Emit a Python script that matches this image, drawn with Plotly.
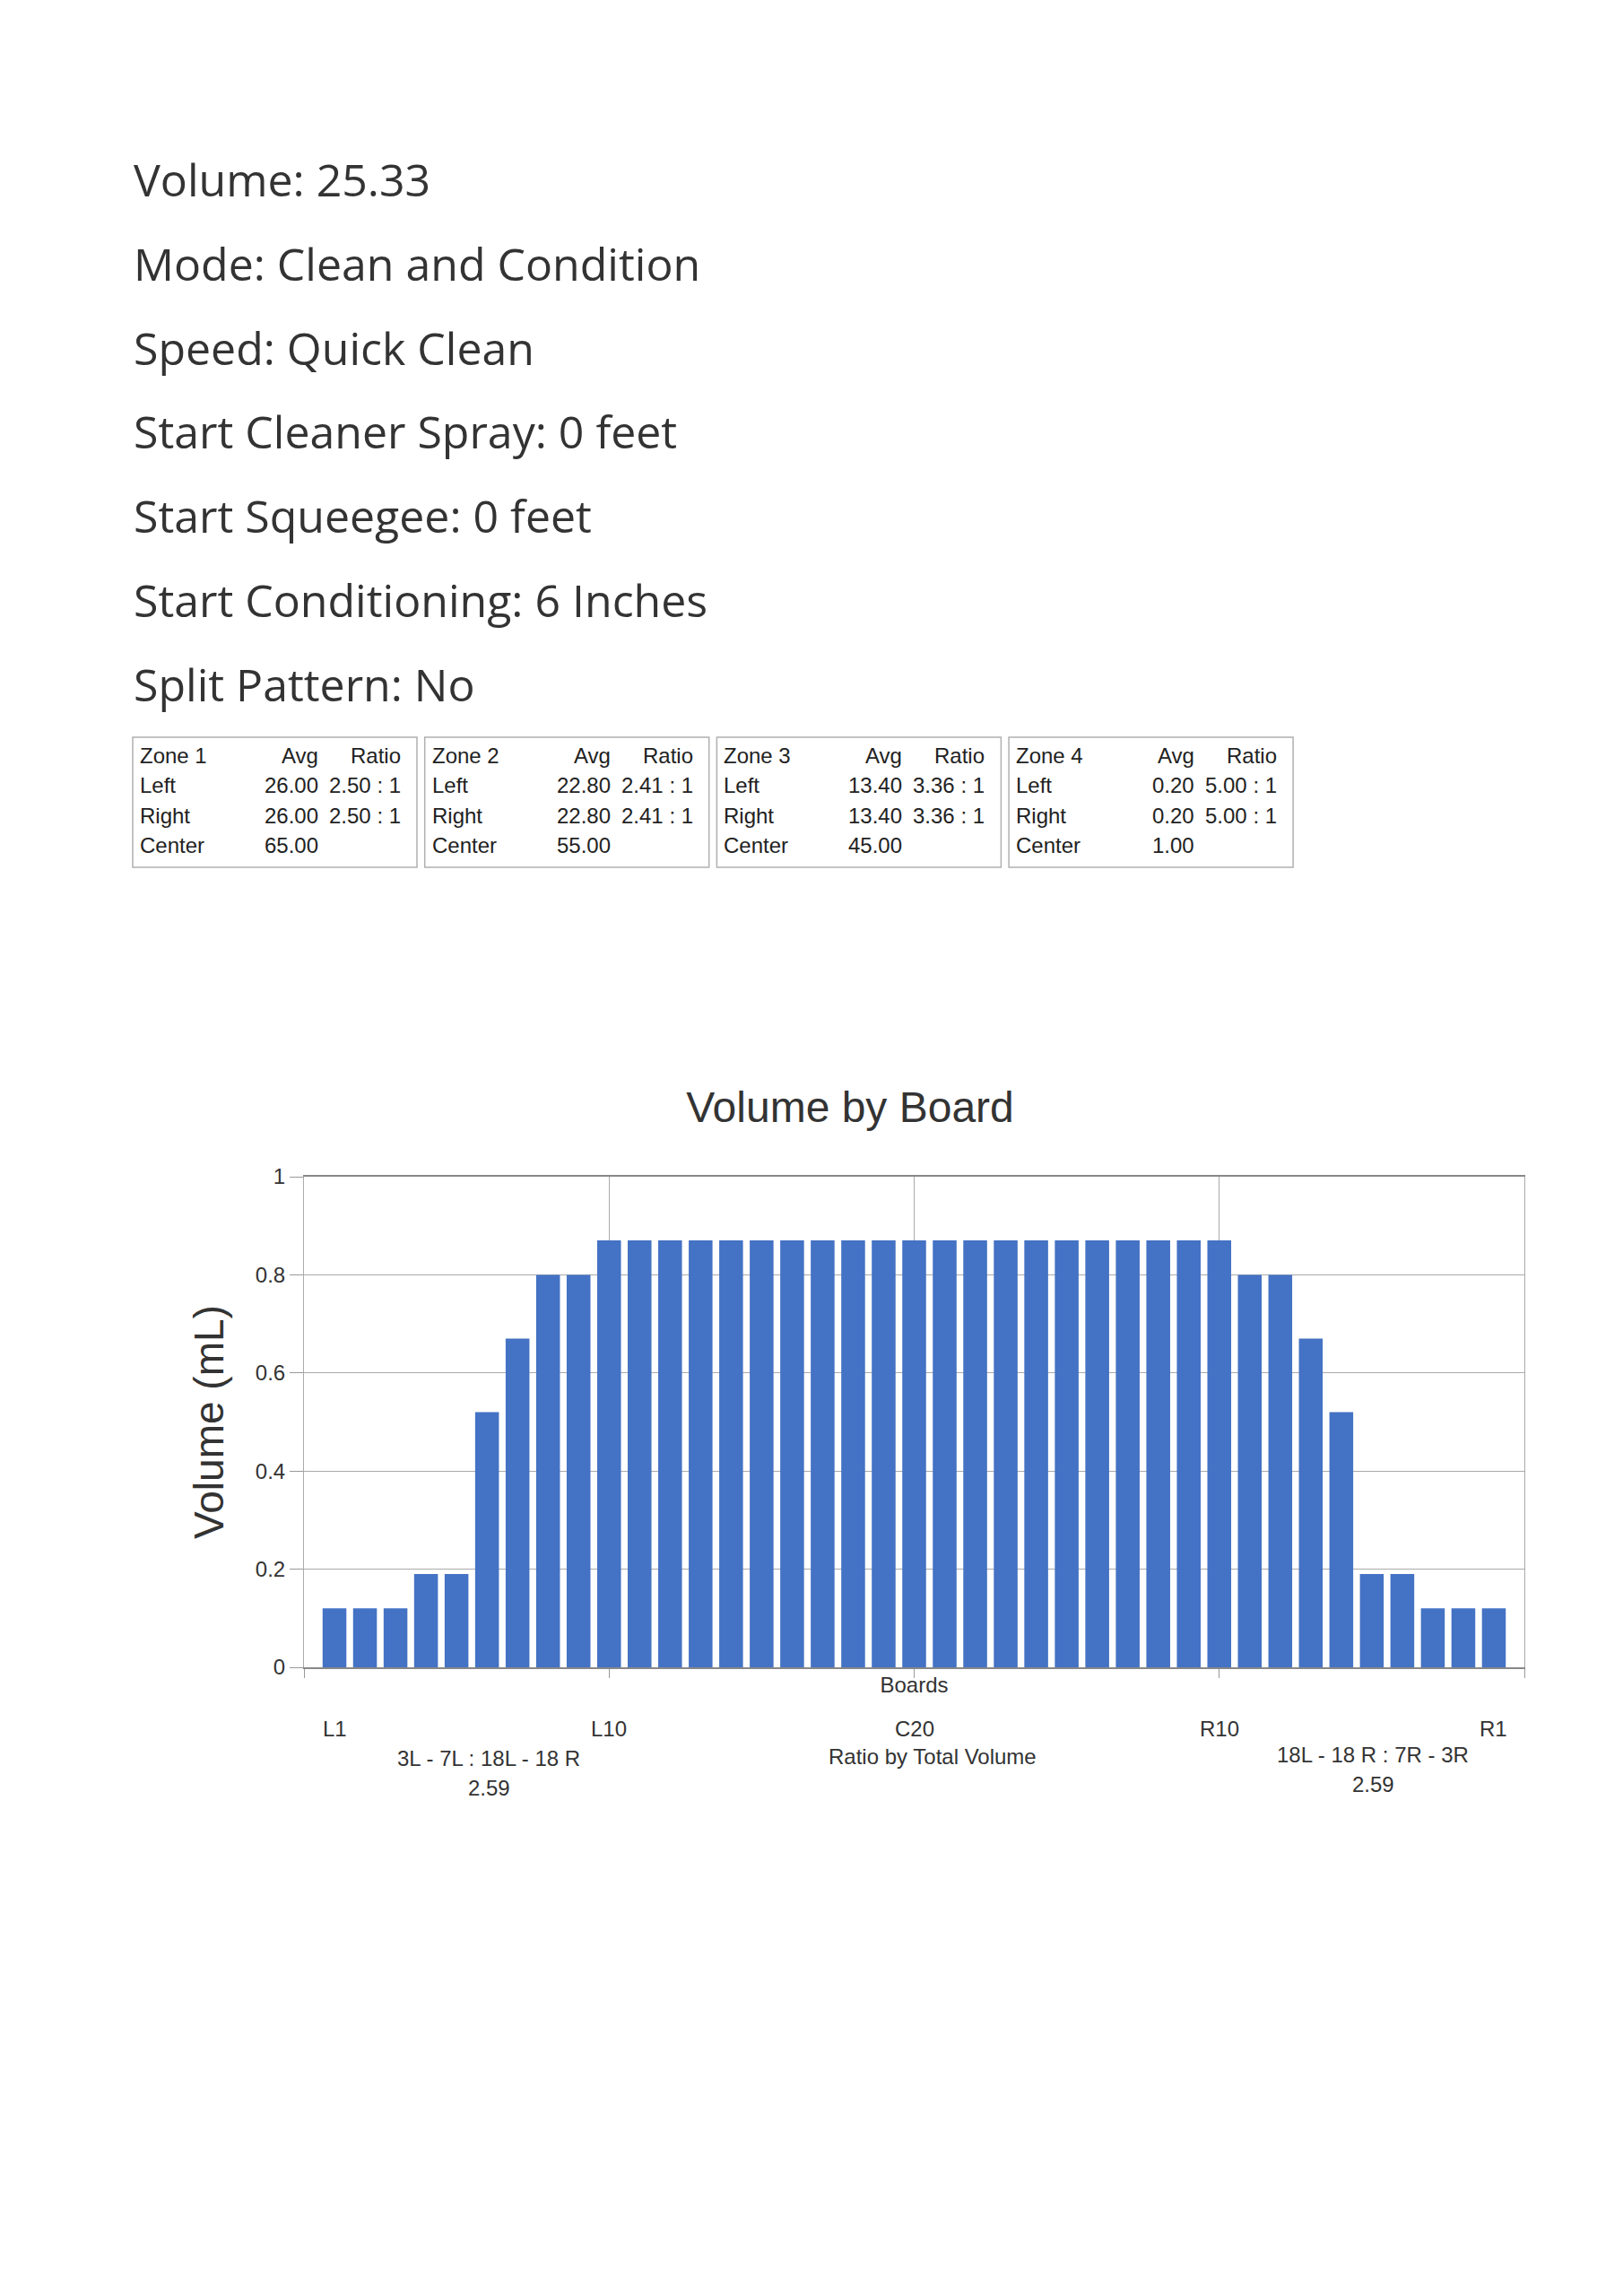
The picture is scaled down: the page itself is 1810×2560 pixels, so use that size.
"""
Volume by Board report page, rebuilt with plotly.
"""

import plotly.graph_objects as go

# ---- data -------------------------------------------------------------
info_labels = ["Volume", "Mode", "Speed", "Start Cleaner Spray",
               "Start Squeegee", "Start Conditioning", "Split Pattern"]
info_values = ["25.33", "Clean and Condition", "Quick Clean", "0 feet",
               "0 feet", "6 Inches", "No"]

zones = ["Zone 1", "Zone 2", "Zone 3", "Zone 4"]
zone_left_avg = [26.00, 22.80, 13.40, 0.20]
zone_right_avg = [26.00, 22.80, 13.40, 0.20]
zone_left_ratio = [2.50, 2.41, 3.36, 5.00]
zone_right_ratio = [2.50, 2.41, 3.36, 5.00]
zone_center = [65.00, 55.00, 45.00, 1.00]

boards = ([f"L{i}" for i in range(1, 20)] + ["C20"]
          + [f"R{i}" for i in range(19, 0, -1)])
volume_ml = ([0.12, 0.12, 0.12, 0.19, 0.19, 0.52, 0.67, 0.80, 0.80]
             + [0.87] * 21
             + [0.80, 0.80, 0.67, 0.52, 0.19, 0.19, 0.12, 0.12, 0.12])
labelled_boards = ["L1", "L10", "C20", "R10", "R1"]

ratio_left_text = "3L - 7L : 18L - 18 R"
ratio_right_text = "18L - 18 R : 7R - 3R"
ratio_left_value = "2.59"
ratio_right_value = "2.59"
ratio_caption = "Ratio by Total Volume"

# ---- page geometry (pixels) -------------------------------------------
W, H = 1810, 2560
PL, PR, PT, PB = 331, 1692, 1304, 1851


def px(x):
    return (x - PL) / (PR - PL)


def py(y):
    return (PB - y) / (PB - PT)


board_x = list(range(1, len(boards) + 1))

fig = go.Figure()
fig.add_trace(go.Bar(
    x=board_x, y=volume_ml, width=0.78,
    marker=dict(color="#4472C4", line=dict(width=0)),
    hovertext=boards, name="Volume",
))

annotations = []
shapes = []

# header lines
HEAD_FONT = dict(family="Open Sans, DejaVu Sans, sans-serif", size=50, color="#333333")
for i, (lab, val) in enumerate(zip(info_labels, info_values)):
    annotations.append(dict(
        text=f"{lab}: {val}", xref="paper", yref="paper",
        x=px(139), y=py(192 + i * 93.8), xanchor="left", yanchor="middle",
        showarrow=False, font=HEAD_FONT,
    ))

# zone boxes
TAB_FONT = dict(family="Liberation Sans, Arial, sans-serif", size=24, color="#222222")
row_y = [834, 867, 901, 934]
for z, name in enumerate(zones):
    left = 140 + z * 325.7
    shapes.append(dict(type="rect", xref="paper", yref="paper",
                       x0=px(left), x1=px(left + 317), y0=py(814), y1=py(959),
                       line=dict(color="#b0b0b0", width=1.5)))
    rows = [
        (name, "Avg", "Ratio"),
        ("Left", f"{zone_left_avg[z]:.2f}", f"{zone_left_ratio[z]:.2f} : 1"),
        ("Right", f"{zone_right_avg[z]:.2f}", f"{zone_right_ratio[z]:.2f} : 1"),
        ("Center", f"{zone_center[z]:.2f}", ""),
    ]
    for r, (a, b, c) in enumerate(rows):
        annotations.append(dict(text=a, xref="paper", yref="paper", x=px(left + 6),
                                y=py(row_y[r]), xanchor="left", yanchor="middle",
                                showarrow=False, font=TAB_FONT))
        annotations.append(dict(text=b, xref="paper", yref="paper", x=px(left + 209),
                                y=py(row_y[r]), xanchor="right", yanchor="middle",
                                showarrow=False, font=TAB_FONT))
        if c:
            annotations.append(dict(text=c, xref="paper", yref="paper", x=px(left + 301),
                                    y=py(row_y[r]), xanchor="right", yanchor="middle",
                                    showarrow=False, font=TAB_FONT))

# board labels under the axis
CH_FONT = dict(family="Liberation Sans, Arial, sans-serif", size=24, color="#333333")
for name in labelled_boards:
    annotations.append(dict(text=name, x=boards.index(name) + 1, xref="x",
                            y=py(1919), yref="paper", xanchor="center", yanchor="middle",
                            showarrow=False, font=CH_FONT))

for xx, yy, txt in [(537, 1952, ratio_left_text), (537, 1985, ratio_left_value),
                    (1032, 1950, ratio_caption),
                    (1523, 1948, ratio_right_text), (1523, 1981, ratio_right_value)]:
    annotations.append(dict(text=txt, x=px(xx), y=py(yy), xref="paper", yref="paper",
                            xanchor="center", yanchor="middle", showarrow=False,
                            font=CH_FONT))

fig.update_layout(
    width=W, height=H,
    margin=dict(l=PL, r=W - PR, t=PT, b=H - PB, autoexpand=False),
    paper_bgcolor="white", plot_bgcolor="white",
    showlegend=False,
    title=dict(text="Volume by Board", xref="container", x=940 / W, xanchor="center",
               yref="container", y=1 - 1226 / H, yanchor="middle",
               font=dict(family="Liberation Sans, Arial, sans-serif", size=48, color="#333333")),
    annotations=annotations, shapes=shapes,
)
fig.update_xaxes(
    range=[0, 40], tickvals=[0, 10, 20, 30, 40], showticklabels=False,
    ticks="outside", ticklen=10, tickcolor="#999999",
    showgrid=True, gridcolor="#aaaaaa", gridwidth=1,
    showline=True, linecolor="#888888", linewidth=1.5, mirror=True,
    zeroline=False,
    title=dict(text="Boards", standoff=0, font=CH_FONT),
)
fig.update_yaxes(
    range=[0, 1], tickvals=[0, 0.2, 0.4, 0.6, 0.8, 1], ticktext=["0", "0.2", "0.4", "0.6", "0.8", "1"],
    ticks="outside", ticklen=15, tickcolor="#999999",
    tickfont=dict(family="Liberation Sans, Arial, sans-serif", size=24, color="#333333"),
    showgrid=True, gridcolor="#aaaaaa", gridwidth=1,
    showline=True, linecolor="#aaaaaa", linewidth=1, mirror=True,
    zeroline=False,
    title=dict(text="Volume (mL)", standoff=20,
               font=dict(family="Liberation Sans, Arial, sans-serif", size=46, color="#333333")),
)

fig.write_html("out.html")
